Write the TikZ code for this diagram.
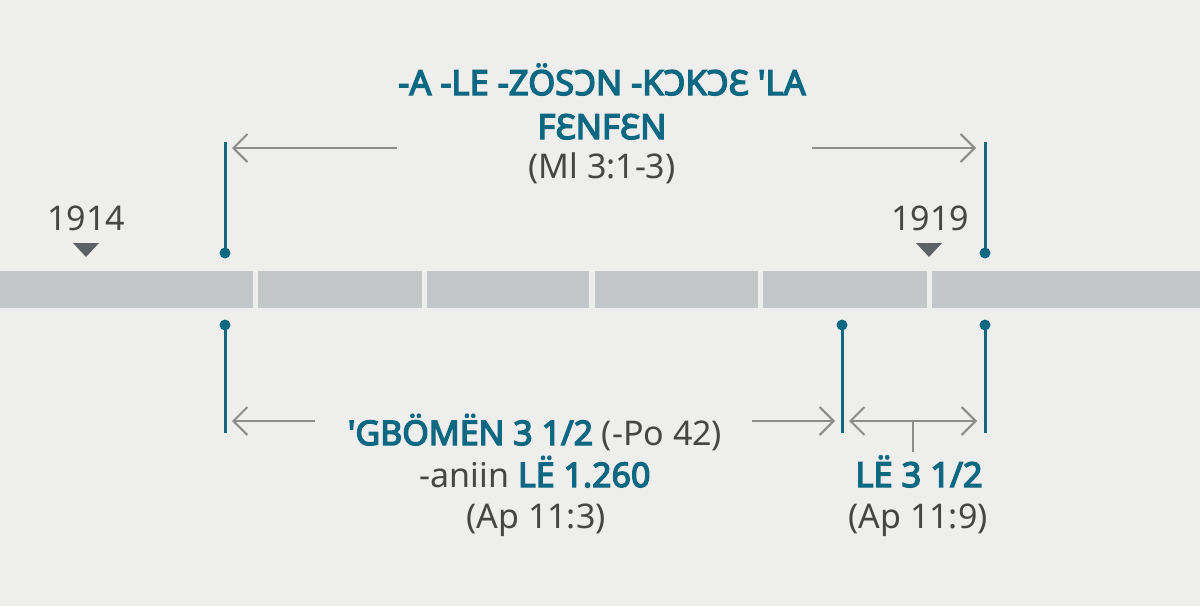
\documentclass[tikz,border=0pt]{standalone}
\usepackage{fontspec}
\setmainfont{Noto Sans}[Ligatures=TeXOff, AutoFakeBold=4]
\usetikzlibrary{arrows.meta}
\definecolor{bgc}{RGB}{238,238,236}
\definecolor{barc}{RGB}{196,199,201}
\definecolor{tealc}{RGB}{14,104,130}
\definecolor{arrgray}{RGB}{140,140,140}
\definecolor{txtgray}{RGB}{70,70,70}
\definecolor{trigray}{RGB}{93,98,102}
\tikzset{
  tline/.style={draw=tealc, line width=3pt},
  tdot/.style={fill=tealc},
  garrow/.style={draw=arrgray, line width=2pt, -{Straight Barb[length=14pt,width=28pt,line width=2pt]}},
  garrows/.style={draw=arrgray, line width=2pt, {Straight Barb[length=14pt,width=28pt,line width=2pt]}-{Straight Barb[length=14pt,width=28pt,line width=2pt]}},
  gline/.style={draw=arrgray, line width=2pt},
  ttl/.style={anchor=base, inner sep=0pt, text=tealc, font=\fontsize{34.5}{40}\selectfont\bfseries},
  reftxt/.style={anchor=base, inner sep=0pt, text=txtgray, font=\fontsize{34}{40}\selectfont},
  segfill/.style={fill=barc},
  trifill/.style={fill=trigray}
}
\begin{document}
\begin{tikzpicture}[x=1pt,y=-1pt]
\fill[bgc] (0,0) rectangle (1200,606);
\useasboundingbox (0,0) rectangle (1200,606);

% timeline bar
\foreach \a/\b in {0/253,258/422,427/589,595/758,763/927,932/1200}
  \fill[segfill] (\a,271) rectangle (\b,308);

% year labels
\node[reftxt] (y1914) at (86,230) {1914};
\node[reftxt] (y1919) at (930,230) {1919};
\fill[trifill] (73,243) -- (99,243) -- (86,257) -- cycle;
\fill[trifill] (916,243) -- (942,243) -- (929,257) -- cycle;

% teal markers above
\coordinate (tlTop) at (225,142);
\coordinate (tlDot) at (225,253);
\coordinate (trTop) at (985,142);
\coordinate (trDot) at (985,253);
\draw[tline] (tlTop) -- (tlDot);
\draw[tline] (trTop) -- (trDot);
\fill[tdot] (tlDot) circle (5.5pt);
\fill[tdot] (trDot) circle (5.5pt);

% teal markers below
\coordinate (blDot) at (225,325);
\coordinate (blEnd) at (225,433);
\coordinate (bmDot) at (842,325);
\coordinate (bmEnd) at (842,433);
\coordinate (brDot) at (985,325);
\coordinate (brEnd) at (985,433);
\draw[tline] (blDot) -- (blEnd);
\draw[tline] (bmDot) -- (bmEnd);
\draw[tline] (brDot) -- (brEnd);
\fill[tdot] (blDot) circle (5.5pt);
\fill[tdot] (bmDot) circle (5.5pt);
\fill[tdot] (brDot) circle (5.5pt);

% top title
\node[ttl] (title1) at (602,95) {-A -LE -ZÖSƆN -KƆKƆƐ 'LA};
\node[ttl] (title2) at (602,139) {FƐNFƐN};
\node[reftxt] (title3) at (602,178) {(Ml 3:1-3)};

% top arrows
\coordinate (taLs) at (397,148);
\coordinate (taLe) at (232,148);
\coordinate (taRs) at (812,148);
\coordinate (taRe) at (976,148);
\draw[garrow] (taLs) -- (taLe);
\draw[garrow] (taRs) -- (taRe);

% bottom arrows
\coordinate (baLs) at (315,421);
\coordinate (baLe) at (232,421);
\coordinate (baMs) at (752,421);
\coordinate (baMe) at (835,421);
\coordinate (baDs) at (849,421);
\coordinate (baDe) at (977,421);
\coordinate (tickTop) at (913,421);
\coordinate (tickBot) at (913,452);
\draw[garrow] (baLs) -- (baLe);
\draw[garrow] (baMs) -- (baMe);
\draw[garrows] (baDs) -- (baDe);
\draw[gline] (tickTop) -- (tickBot);

% bottom texts
\node[reftxt] (dur1) at (535,445) {\textcolor{tealc}{\bfseries 'GBÖMËN 3 1/2} (-Po 42)};
\node[reftxt] (dur2) at (535,487) {-aniin \textcolor{tealc}{\bfseries LË 1.260}};
\node[reftxt] (dur3) at (536,528) {(Ap 11:3)};
\node[ttl] (short1) at (919,487) {LË 3 1/2};
\node[reftxt] (short2) at (918,528) {(Ap 11:9)};
\end{tikzpicture}
\end{document}
